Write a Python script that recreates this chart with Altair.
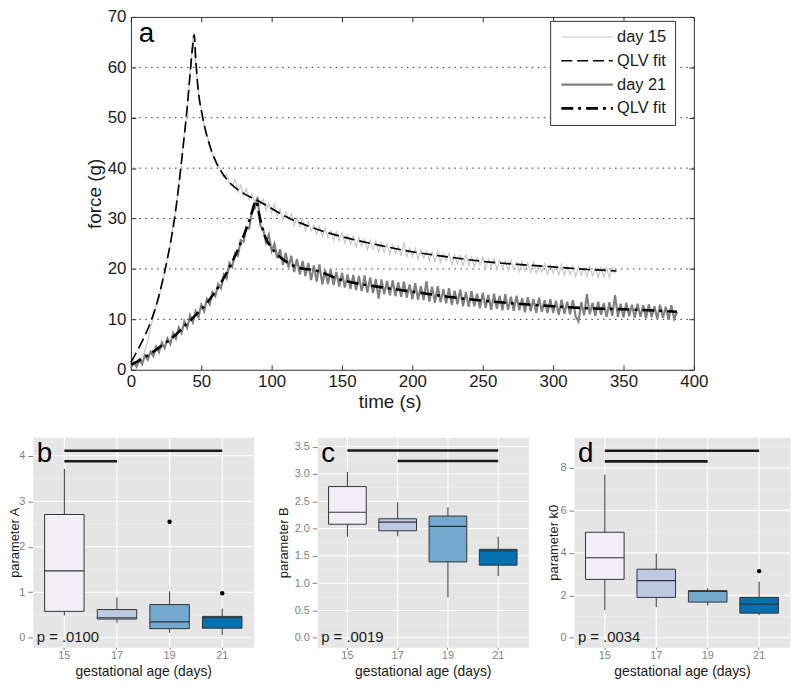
import altair as alt
import pandas as pd

FONT = "Liberation Sans"

# ---------------- panel a: force relaxation traces ----------------
# raw traces sampled every 2 s (values read off the picture)
day15_raw = [
    0.8, 1.2, 1.0, 2.1, 2.6, 3.9, 5.8, 8.4, 10.6, 12.9,
    14.2, 17.3, 19.1, 22.4, 24.6, 28.8, 31.7, 37.0, 41.2, 47.0,
    51.6, 58.9, 66.2, 60.5, 55.3, 51.8, 48.6, 46.4, 44.9, 42.6,
    41.9, 40.2, 39.8, 38.2, 38.9, 37.0, 36.4, 37.8, 35.3, 36.6,
    34.6, 35.9, 33.8, 35.0, 33.2, 34.4, 32.7, 33.9, 31.6, 33.0,
    31.2, 32.8, 30.5, 31.9, 29.7, 31.3, 29.8, 30.9, 28.6, 30.2,
    28.4, 29.9, 27.6, 29.4, 27.5, 28.7, 26.9, 28.5, 26.4, 28.1,
    26.2, 27.6, 25.7, 27.4, 25.6, 27.2, 25.1, 26.8, 24.9, 26.5,
    24.4, 26.3, 24.6, 25.9, 23.8, 25.7, 23.9, 25.6, 23.4, 25.2,
    23.3, 24.9, 22.9, 24.8, 23.1, 24.6, 22.6, 25.3, 22.3, 24.2,
    22.5, 24.1, 21.9, 23.8, 22.1, 23.6, 21.7, 23.4, 21.5, 23.5,
    21.3, 23.0, 21.6, 23.1, 20.9, 22.8, 21.0, 22.7, 20.6, 22.9,
    20.7, 22.4, 20.4, 22.2, 20.8, 22.3, 20.1, 21.9, 20.3, 22.0,
    19.9, 21.8, 20.2, 21.6, 19.7, 21.7, 19.8, 21.3, 19.5, 21.5,
    19.6, 21.2, 19.3, 21.4, 19.2, 20.9, 19.4, 21.1, 18.9, 20.8,
    19.2, 20.7, 18.8, 20.9, 18.7, 20.5, 18.9, 20.6, 18.5, 20.4,
    18.8, 20.3, 18.4, 20.6, 18.6, 20.2, 18.3, 20.4, 18.5, 20.1,
    18.2, 20.3, 19.0,
]
day21_raw = [
    0.3, 1.4, 0.6, 2.0, 1.1, 2.9, 2.0, 3.6, 2.7, 4.6,
    3.5, 5.4, 4.3, 6.2, 5.1, 7.3, 6.2, 8.4, 7.3, 9.6,
    8.3, 10.8, 9.4, 11.6, 10.4, 12.9, 11.6, 14.0, 13.0, 15.4,
    14.6, 17.0, 16.2, 18.9, 18.1, 21.2, 20.4, 23.1, 22.6, 25.7,
    25.4, 28.3, 28.0, 31.4, 32.0, 34.2, 28.6, 27.9, 25.2, 26.8,
    23.6, 25.0, 22.1, 23.9, 20.8, 23.2, 20.3, 22.6, 19.4, 22.0,
    18.9, 21.6, 18.6, 21.2, 17.8, 20.7, 17.5, 20.9, 16.9, 19.8,
    17.0, 19.9, 16.8, 19.4, 16.5, 19.2, 16.3, 18.9, 16.0, 18.8,
    15.8, 18.6, 15.6, 18.7, 15.3, 18.3, 15.2, 18.0, 14.1, 17.9,
    15.0, 17.6, 14.8, 17.7, 14.6, 17.3, 14.5, 17.5, 14.3, 16.9,
    14.0, 17.2, 13.9, 16.6, 13.8, 17.6, 13.5, 16.5, 13.3, 16.6,
    13.4, 16.0, 13.2, 16.2, 12.9, 15.7, 13.0, 15.9, 12.6, 15.4,
    12.5, 15.6, 12.6, 15.1, 12.2, 15.3, 12.3, 14.9, 11.9, 15.1,
    12.1, 14.7, 11.8, 15.0, 11.9, 14.5, 11.7, 14.7, 11.8, 14.2,
    11.4, 14.4, 11.6, 14.0, 11.3, 14.3, 11.5, 13.8, 11.2, 14.0,
    11.3, 13.7, 10.9, 13.9, 11.1, 13.5, 11.0, 13.8, 10.6, 9.6,
    13.4, 10.8, 15.0, 11.0, 13.3, 10.7, 13.5, 10.9, 13.2, 10.5,
    13.4, 10.7, 14.8, 10.5, 13.1, 10.4, 13.3, 10.6, 12.9, 10.3,
    13.1, 10.5, 12.8, 10.2, 13.0, 10.4, 12.6, 10.1, 12.9, 10.3,
    12.5, 9.9, 12.8, 10.1, 11.5,
]
fit15_t = [0, 5, 10, 15, 20, 24, 28, 31, 34, 37, 40, 42, 44, 45, 46, 47, 48, 50, 53, 56,
           60, 65, 70, 80, 90, 100, 110, 125, 150, 175, 200, 225, 250, 275, 300, 325, 345]
fit15_f = [1.5, 4.0, 6.8, 10.2, 14.8, 19.5, 25.0, 30.0, 36.5, 44.0, 52.0, 58.5, 64.5, 66.5, 62.0,
           58.0, 55.0, 51.5, 47.5, 44.5, 41.5, 39.0, 37.2, 35.0, 33.6, 32.0, 30.4, 28.6, 26.4,
           24.8, 23.4, 22.4, 21.5, 20.9, 20.4, 19.9, 19.6]
fit21_t = [0, 10, 20, 30, 40, 50, 60, 70, 80, 85, 89, 91, 93, 96, 100, 105, 110, 120, 130, 150,
           175, 200, 225, 250, 275, 300, 325, 350, 375, 388]
fit21_f = [1.0, 2.5, 4.4, 6.5, 9.2, 12.0, 15.5, 20.3, 26.5, 30.3, 33.5, 31.0, 28.5, 26.0, 24.2,
           22.6, 21.5, 20.2, 19.8, 17.8, 16.5, 15.5, 14.5, 13.7, 13.1, 12.6, 12.2, 12.0, 11.7, 11.5]

series_names = ["day 15", "QLV fit 15", "day 21", "QLV fit 21"]
time_ticks = [0, 50, 100, 150, 200, 250, 300, 350, 400]
force_ticks = [0, 10, 20, 30, 40, 50, 60, 70]
force_grid = [10, 20, 30, 40, 50, 60]

raw_df = pd.concat([
    pd.DataFrame({"t": list(range(0, 2 * len(day15_raw), 2)), "f": day15_raw, "s": "day 15"}),
    pd.DataFrame({"t": list(range(0, 2 * len(day21_raw), 2)), "f": day21_raw, "s": "day 21"}),
])
fit_df = pd.concat([
    pd.DataFrame({"t": fit15_t, "f": fit15_f, "s": "QLV fit 15"}),
    pd.DataFrame({"t": fit21_t, "f": fit21_f, "s": "QLV fit 21"}),
])

xsc = alt.Scale(domain=[0, 400], nice=False, zero=False)
ysc = alt.Scale(domain=[0, 70], nice=False, zero=False)
col_sc = alt.Scale(domain=series_names, range=["#C8C8C8", "#000000", "#808080", "#000000"])
dash_sc = alt.Scale(domain=series_names, range=[[1, 0], [11, 5], [1, 0], [12, 5, 3, 5]])
wid_sc = alt.Scale(domain=series_names, range=[1.2, 2.6, 1.2, 2.6])

leg = alt.Legend(
    title=None, orient="none", legendX=522, legendY=4,
    symbolType="M-1,0H9.4", symbolSize=100,
    labelFont=FONT, labelFontSize=16.5, labelColor="#1a1a1a", labelOffset=43,
    padding=8, rowPadding=7, strokeColor="#333333", fillColor="white",
    labelExpr="indexof(datum.label, 'QLV') >= 0 ? 'QLV fit' : datum.label",
)

tick_style = dict(tickSize=5, tickColor="#333333", domain=False, grid=False, offset=-5,
                  labelFlush=False)
axis_bottom = alt.Axis(orient="bottom", values=time_ticks, labelFont=FONT, labelFontSize=17,
                       labelColor="#1a1a1a", labelPadding=4, title="time (s)", titleFont=FONT,
                       titleFontSize=19, titleFontWeight="normal", titleColor="#1a1a1a",
                       titlePadding=3, titleX=261, titleAlign="center", **tick_style)
axis_left = alt.Axis(orient="left", values=force_ticks, labelFont=FONT, labelFontSize=17,
                     labelColor="#1a1a1a", labelPadding=5, title="force (g)", titleFont=FONT,
                     titleFontSize=19, titleFontWeight="normal", titleColor="#1a1a1a",
                     titlePadding=3, **tick_style)
axis_top = alt.Axis(orient="top", values=time_ticks, labels=False, title=None, **tick_style)
axis_right = alt.Axis(orient="right", values=force_ticks, labels=False, title=None, **tick_style)

grid_a = alt.Chart(pd.DataFrame({"v": force_grid})).mark_rule(
    color="#333333", strokeWidth=1, strokeDash=[1.5, 4.5]
).encode(y=alt.Y("v:Q", scale=ysc, axis=None))

enc_common = dict(
    color=alt.Color("s:N", scale=col_sc, legend=leg),
    strokeDash=alt.StrokeDash("s:N", scale=dash_sc, legend=leg),
    strokeWidth=alt.StrokeWidth("s:N", scale=wid_sc, legend=leg),
)
raw_line = alt.Chart(raw_df).mark_line().encode(
    x=alt.X("t:Q", scale=xsc, axis=axis_bottom),
    y=alt.Y("f:Q", scale=ysc, axis=axis_left),
    detail="s:N", **enc_common,
)
fit_line = alt.Chart(fit_df).mark_line(interpolate="monotone").encode(
    x=alt.X("t:Q", scale=xsc, axis=axis_top),
    y=alt.Y("f:Q", scale=ysc, axis=axis_right),
    detail="s:N", **enc_common,
)
letter_a = alt.Chart(pd.DataFrame({"lab": ["a"]})).mark_text(
    align="left", baseline="alphabetic", fontSize=28, font=FONT, color="black"
).encode(text="lab:N", x=alt.value(8), y=alt.value(25))

panel_a = alt.layer(grid_a, raw_line, fit_line, letter_a).resolve_axis(
    x="independent", y="independent"
).properties(width=568, height=356,
             view=alt.ViewBackground(stroke="#333333", strokeWidth=1, fill="white"))

spacer = alt.Chart(pd.DataFrame({"z": [0]})).mark_point(opacity=0).encode(
    x=alt.X("z:Q", axis=None), y=alt.Y("z:Q", axis=None)
).properties(width=51, height=1)

# ---------------- panels b, c, d: boxplots ----------------
ages = ["15", "17", "19", "21"]
pubu = ["#F1EEF6", "#BDC9E1", "#74A9CF", "#0570B0"]

A_lo = [0.49, 0.33, 0.11, 0.06]
A_q1 = [0.58, 0.41, 0.20, 0.21]
A_med = [1.47, 0.44, 0.35, 0.44]
A_q3 = [2.71, 0.62, 0.73, 0.47]
A_hi = [3.71, 0.89, 1.02, 0.64]
A_out_age = ["19", "21"]
A_out_val = [2.55, 0.98]
A_sig_from = ["15", "15"]
A_sig_to = ["21", "17"]
A_sig_y = [4.11, 3.88]

B_lo = [1.85, 1.86, 0.74, 1.13]
B_q1 = [2.08, 1.96, 1.39, 1.33]
B_med = [2.30, 2.12, 2.04, 1.59]
B_q3 = [2.77, 2.18, 2.23, 1.62]
B_hi = [3.04, 2.48, 2.39, 1.85]
B_out_age = []
B_out_val = []
B_sig_from = ["15", "17"]
B_sig_to = ["21", "21"]
B_sig_y = [3.43, 3.24]

K_lo = [1.31, 1.44, 1.52, 1.06]
K_q1 = [2.75, 1.90, 1.68, 1.16]
K_med = [3.77, 2.69, 2.18, 1.58]
K_q3 = [4.97, 3.23, 2.22, 1.90]
K_hi = [7.69, 3.96, 2.33, 2.64]
K_out_age = ["21"]
K_out_val = [3.14]
K_sig_from = ["15", "15"]
K_sig_to = ["21", "19"]
K_sig_y = [8.81, 8.31]

GREY_TXT = "#7F7F7F"
DARK = "#1a1a1a"


def box_panel(letter, ptext, lo, q1, med, q3, hi, out_age, out_val, sfrom, sto, sy,
              ydom, yticks, yminor, ytitle, yfmt, width, title_x):
    stats = pd.DataFrame({"age": ages, "lo": lo, "q1": q1, "med": med, "q3": q3, "hi": hi})
    outs = pd.DataFrame({"age": out_age, "v": out_val})
    sig = pd.DataFrame({"a": sfrom, "b": sto, "y": sy})
    xs = alt.Scale(domain=ages, paddingInner=0.25, paddingOuter=0.225)
    ys = alt.Scale(domain=ydom, nice=False, zero=False)
    xaxis = alt.Axis(title="gestational age (days)", labelAngle=0, tickSize=2, tickColor=GREY_TXT,
                     domain=False, grid=False, labelColor=GREY_TXT, labelFontSize=11,
                     labelFont=FONT, labelPadding=0, titleFont=FONT, titleFontSize=14,
                     titleColor=DARK, titlePadding=4, titleFontWeight="normal")
    yaxis = alt.Axis(values=yticks, format=yfmt, tickSize=5, tickColor=GREY_TXT, domain=False,
                     grid=False, labelColor=GREY_TXT, labelFontSize=11, labelFont=FONT,
                     labelPadding=3, title=ytitle, titleFont=FONT, titleFontSize=13,
                     titleX=title_x, titleColor=DARK, titleFontWeight="normal")
    X = lambda f: alt.X(f, scale=xs, axis=xaxis)
    Y = lambda f: alt.Y(f, scale=ys, axis=yaxis)

    minor = alt.Chart(pd.DataFrame({"v": yminor})).mark_rule(color="#F2F2F2", strokeWidth=0.6).encode(
        y=Y("v:Q"))
    major = alt.Chart(pd.DataFrame({"v": yticks})).mark_rule(color="white", strokeWidth=1.1).encode(
        y=Y("v:Q"))
    vgrid = alt.Chart(stats).mark_rule(color="white", strokeWidth=1.1).encode(x=X("age:O"))
    whisk = alt.Chart(stats).mark_rule(color="#333333", strokeWidth=1).encode(
        x=X("age:O"), y=Y("lo:Q"), y2="hi:Q")
    box = alt.Chart(stats).mark_bar(stroke="#333333", strokeWidth=1, opacity=1).encode(
        x=X("age:O"), y=Y("q1:Q"), y2="q3:Q",
        fill=alt.Fill("age:O", scale=alt.Scale(domain=ages, range=pubu), legend=None))
    medl = alt.Chart(stats).mark_bar(stroke="#333333", strokeWidth=1.2, fillOpacity=0).encode(
        x=X("age:O"), y=Y("med:Q"), y2="med:Q")
    layers = [minor, major, vgrid, whisk, box, medl]
    if len(out_val):
        layers.append(alt.Chart(outs).mark_circle(color="black", size=20, opacity=1).encode(
            x=X("age:O"), y=Y("v:Q")))
    layers.append(alt.Chart(sig).mark_rule(color=DARK, strokeWidth=2.6).encode(
        x=X("a:O"), x2="b:O", y=Y("y:Q")))
    layers.append(alt.Chart(pd.DataFrame({"lab": [letter]})).mark_text(
        align="left", baseline="alphabetic", fontSize=28, font=FONT, color="black"
    ).encode(text="lab:N", x=alt.value(4), y=alt.value(25)))
    layers.append(alt.Chart(pd.DataFrame({"v": [0], "lab": [ptext]})).mark_text(
        align="left", baseline="middle", fontSize=15, font=FONT, color=DARK, dy=-1
    ).encode(text="lab:N", x=alt.value(4), y=Y("v:Q")))
    return alt.layer(*layers).properties(
        width=width, height=212,
        view=alt.ViewBackground(fill="#E5E5E5", stroke="transparent"))


panel_b = box_panel("b", "p = .0100", A_lo, A_q1, A_med, A_q3, A_hi, A_out_age, A_out_val,
                    A_sig_from, A_sig_to, A_sig_y, [-0.21, 4.41], [0, 1, 2, 3, 4],
                    [0.5, 1.5, 2.5, 3.5], "parameter A", "d", 223, -11)
panel_c = box_panel("c", "p = .0019", B_lo, B_q1, B_med, B_q3, B_hi, B_out_age, B_out_val,
                    B_sig_from, B_sig_to, B_sig_y, [-0.175, 3.675],
                    [0, 0.5, 1.0, 1.5, 2.0, 2.5, 3.0, 3.5],
                    [0.25, 0.75, 1.25, 1.75, 2.25, 2.75, 3.25], "parameter B", ".1f", 213, -27)
panel_d = box_panel("d", "p = .0034", K_lo, K_q1, K_med, K_q3, K_hi, K_out_age, K_out_val,
                    K_sig_from, K_sig_to, K_sig_y, [-0.45, 9.45], [0, 2, 4, 6, 8],
                    [1, 3, 5, 7, 9], "parameter k0", "d", 218, -14)

top = alt.hconcat(spacer, panel_a, spacing=0)
bottom = alt.hconcat(alt.hconcat(panel_b, panel_c, spacing=21), panel_d, spacing=16)
chart = alt.vconcat(top, bottom, spacing=23).properties(
    padding=alt.ExprRef(expr="{top: -4, left: 0, right: 0, bottom: 0}")
).configure(font=FONT).configure_view(stroke="transparent")

chart.save("out.html", embed_options={"renderer": "svg", "actions": False})
